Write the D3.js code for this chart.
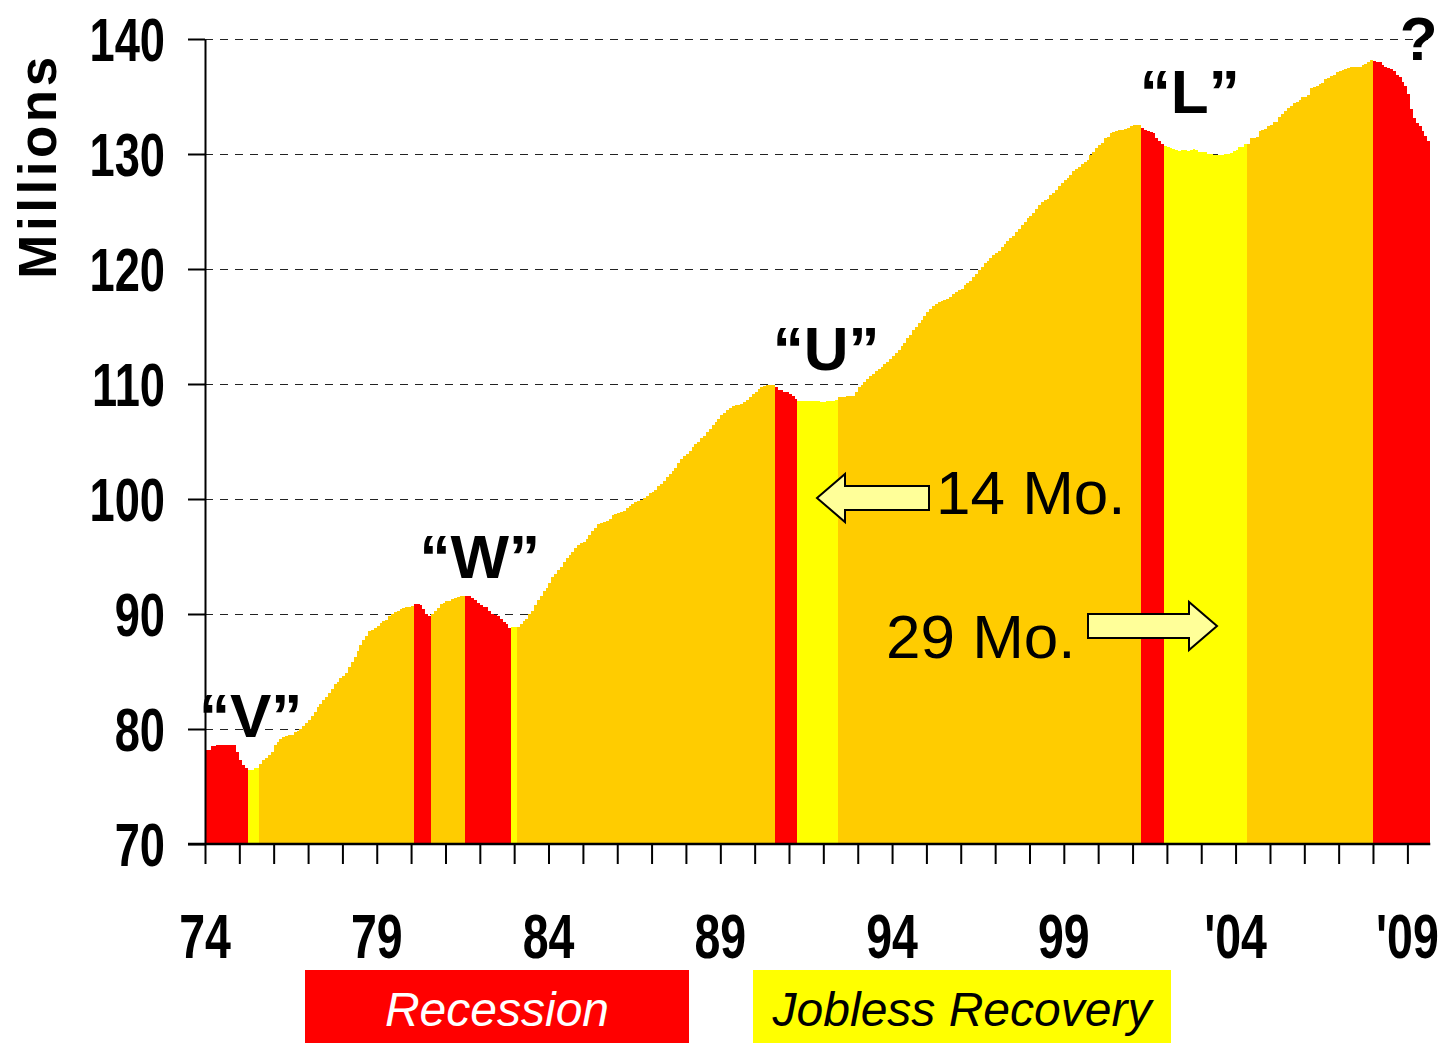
<!DOCTYPE html>
<html>
<head>
<meta charset="utf-8">
<script src="https://cdn.jsdelivr.net/npm/d3@7"></script>
<style>
  html, body { margin: 0; padding: 0; background: #fff; }
  svg { display: block; }
</style>
</head>
<body>
<svg id="chart" width="1443" height="1043"></svg>
<script>
// Nonfarm payroll employment, millions, monthly from January 1974 (one row per year)
const employment = [
  78.2, 78.2, 78.5, 78.5, 78.6, 78.6, 78.6, 78.6, 78.6, 78.6, 78.6, 78.0,   // 1974
  77.3, 76.9, 76.6, 76.4, 76.4, 76.6, 76.6, 77.0, 77.3, 77.5, 77.7, 78.0,   // 1975
  78.6, 78.9, 79.1, 79.3, 79.4, 79.5, 79.5, 79.7, 79.8, 80.0, 80.3, 80.5,   // 1976
  80.8, 81.1, 81.5, 81.9, 82.2, 82.5, 82.8, 83.1, 83.5, 83.9, 84.1, 84.4,   // 1977
  84.6, 84.9, 85.4, 85.8, 86.3, 86.8, 87.3, 87.7, 88.1, 88.5, 88.6, 88.8,   // 1978
  89.0, 89.2, 89.4, 89.5, 89.8, 90.0, 90.2, 90.3, 90.4, 90.5, 90.6, 90.6,   // 1979
  90.7, 90.9, 90.9, 90.8, 90.4, 90.0, 89.8, 90.0, 90.3, 90.5, 90.9, 91.0,   // 1980
  91.1, 91.1, 91.3, 91.4, 91.5, 91.6, 91.6, 91.6, 91.6, 91.4, 91.2, 91.0,   // 1981
  90.8, 90.6, 90.6, 90.3, 90.0, 89.9, 89.8, 89.6, 89.3, 89.1, 88.8, 88.9,   // 1982
  88.9, 88.9, 89.1, 89.4, 89.6, 90.0, 90.3, 90.8, 91.2, 91.6, 92.0, 92.3,   // 1983
  92.7, 93.2, 93.5, 93.8, 94.1, 94.5, 94.9, 95.1, 95.4, 95.7, 96.0, 96.2,   // 1984
  96.3, 96.5, 96.9, 97.2, 97.5, 97.8, 97.9, 98.0, 98.1, 98.3, 98.6, 98.7,   // 1985
  98.8, 98.9, 99.0, 99.2, 99.4, 99.6, 99.7, 99.8, 99.9, 100.1, 100.3, 100.5, // 1986
  100.6, 100.8, 101.1, 101.3, 101.6, 101.9, 102.2, 102.4, 102.7, 103.1, 103.5, 103.7, // 1987
  103.9, 104.2, 104.5, 104.8, 105.0, 105.3, 105.5, 105.8, 106.1, 106.4, 106.7, 107.0, // 1988
  107.3, 107.5, 107.7, 107.9, 108.1, 108.15, 108.2, 108.3, 108.4, 108.6, 108.9, 109.1, // 1989
  109.3, 109.6, 109.7, 109.8, 109.9, 109.9, 109.9, 109.7, 109.5, 109.5, 109.3, 109.3, // 1990
  109.1, 109.0, 108.7, 108.5, 108.5, 108.5, 108.5, 108.5, 108.5, 108.5, 108.5, 108.45, // 1991
  108.45, 108.5, 108.5, 108.55, 108.6, 108.9, 108.9, 108.9, 109.0, 109.0, 109.0, 109.3, // 1992
  109.7, 109.9, 110.2, 110.4, 110.7, 110.9, 111.1, 111.3, 111.5, 111.7, 111.9, 112.2, // 1993
  112.4, 112.7, 113.0, 113.3, 113.6, 114.0, 114.3, 114.7, 115.0, 115.3, 115.6, 115.9, // 1994
  116.3, 116.5, 116.8, 117.0, 117.1, 117.2, 117.3, 117.4, 117.6, 117.8, 118.0, 118.15, // 1995
  118.3, 118.6, 118.8, 119.0, 119.3, 119.6, 119.9, 120.2, 120.5, 120.7, 121.0, 121.2, // 1996
  121.4, 121.6, 121.9, 122.2, 122.4, 122.7, 122.9, 123.2, 123.5, 123.8, 124.1, 124.4, // 1997
  124.6, 124.9, 125.2, 125.6, 125.8, 126.0, 126.1, 126.4, 126.6, 126.9, 127.2, 127.5, // 1998
  127.7, 127.9, 128.2, 128.5, 128.7, 128.9, 129.1, 129.3, 129.5, 129.9, 130.2, 130.5, // 1999
  130.8, 131.0, 131.4, 131.5, 131.8, 131.9, 132.0, 132.1, 132.1, 132.2, 132.3, 132.4, // 2000
  132.5, 132.5, 132.5, 132.3, 132.1, 132.0, 131.9, 131.8, 131.4, 131.1, 130.9, 130.7, // 2001
  130.6, 130.5, 130.4, 130.35, 130.3, 130.35, 130.35, 130.3, 130.35, 130.4, 130.35, 130.2, // 2002
  130.2, 130.2, 130.0, 130.0, 129.95, 129.95, 129.95, 129.9, 130.0, 130.0, 130.05, 130.3, // 2003
  130.35, 130.6, 130.6, 130.9, 130.9, 131.4, 131.4, 131.5, 132.0, 132.1, 132.2, 132.4, // 2004
  132.5, 132.8, 132.8, 133.2, 133.5, 133.7, 134.0, 134.2, 134.4, 134.5, 134.7, 135.0, // 2005
  135.0, 135.1, 135.7, 135.8, 135.9, 136.1, 136.2, 136.5, 136.6, 136.8, 136.9, 137.1, // 2006
  137.2, 137.3, 137.4, 137.5, 137.6, 137.6, 137.6, 137.6, 137.7, 137.8, 138.0, 138.2, // 2007
  138.1, 138.0, 138.0, 137.7, 137.6, 137.5, 137.4, 137.2, 136.9, 136.7, 136.3, 135.9, // 2008
  135.2, 133.9, 133.1, 132.7, 132.4, 132.0, 131.6, 131.1                              // 2009
];
const startYear = 1974;

// Shaded periods, first and last month inclusive
const recessions = [
  [[1974, 1], [1975, 3]],
  [[1980, 2], [1980, 7]],
  [[1981, 8], [1982, 11]],
  [[1990, 8], [1991, 3]],
  [[2001, 4], [2001, 11]],
  [[2008, 1], [2009, 8]]
];
const joblessRecoveries = [
  [[1975, 4], [1975, 7]],
  [[1982, 12], [1983, 1]],
  [[1991, 4], [1992, 5]],   // 14 months
  [[2001, 12], [2004, 4]]   // 29 months
];

const yTicks = [70, 80, 90, 100, 110, 120, 130, 140];
const yGrid = [80, 90, 100, 110, 120, 130, 140];
const xLabelYears = [1974, 1979, 1984, 1989, 1994, 1999, 2004, 2009];
const xLabelText = ["74", "79", "84", "89", "94", "99", "'04", "'09"];

// Recovery-shape labels, anchored at [year, month, level]
const shapeLabels = [
  { text: "\u201CV\u201D", at: [1975, 5.0, 79.3] },
  { text: "\u201CW\u201D", at: [1982, 1.7, 93.1] },
  { text: "\u201CU\u201D", at: [1992, 2.0, 111.2] },
  { text: "\u201CL\u201D", at: [2002, 9.2, 133.6] },
  { text: "?", at: [2009, 5.1, 138.2] }
];

const colors = { base: "#FFCC00", recession: "#FF0000", jobless: "#FFFF00", arrow: "#FFFF99" };
const boldFont = "'Liberation Sans', Arial, Helvetica, sans-serif";

const svg = d3.select("#chart");

const x = d3.scaleTime()
  .domain([new Date(1974, 0, 1), new Date(2009, 0, 1)])
  .range([205, 1407.4]);
const y = d3.scaleLinear().domain([70, 140]).range([844, 39]);

const monthDate = i => new Date(startYear, i, 1);
const monthIndex = ([yr, mo]) => (yr - startYear) * 12 + (mo - 1);

function category(i) {
  for (const [a, b] of recessions) if (i >= monthIndex(a) && i <= monthIndex(b)) return "recession";
  for (const [a, b] of joblessRecoveries) if (i >= monthIndex(a) && i <= monthIndex(b)) return "jobless";
  return "base";
}

// Dashed gridlines (behind the area)
svg.append("g")
  .selectAll("line")
  .data(yGrid)
  .join("line")
  .attr("x1", x(new Date(1974, 0, 1)))
  .attr("x2", x(monthDate(employment.length)))
  .attr("y1", d => y(d) + 0.5)
  .attr("y2", d => y(d) + 0.5)
  .attr("stroke", "#222")
  .attr("stroke-width", 1)
  .attr("stroke-dasharray", "8,7");

// Build contiguous same-colour runs of months
const segments = [];
employment.forEach((v, i) => {
  const c = category(i);
  const last = segments[segments.length - 1];
  if (last && last.cat === c) last.pts.push({ date: monthDate(i), value: v });
  else segments.push({ cat: c, pts: [{ date: monthDate(i), value: v }], lastIndex: i });
  segments[segments.length - 1].lastIndex = i;
});
segments.forEach(s => s.pts.push({ date: monthDate(s.lastIndex + 1), value: employment[s.lastIndex] }));

const area = d3.area()
  .x(d => x(d.date))
  .y0(y(70))
  .y1(d => y(d.value))
  .curve(d3.curveStepAfter);

svg.append("g")
  .selectAll("path")
  .data(segments)
  .join("path")
  .attr("d", d => area(d.pts))
  .attr("fill", d => colors[d.cat])
  .attr("shape-rendering", "crispEdges");

// X axis: yearly ticks
const xAxis = d3.axisBottom(x)
  .ticks(d3.timeYear.every(1))
  .tickSize(20)
  .tickSizeOuter(0)
  .tickFormat("");
const gx = svg.append("g").attr("transform", `translate(0,${y(70)})`).call(xAxis);
gx.select(".domain").remove();
gx.selectAll(".tick line").attr("stroke", "#000").attr("stroke-width", 2);
gx.selectAll(".tick").filter(d => d > monthDate(employment.length)).remove();

svg.append("line")
  .attr("x1", 188).attr("x2", x(monthDate(employment.length)))
  .attr("y1", y(70)).attr("y2", y(70))
  .attr("stroke", "#000").attr("stroke-width", 2.5);

// Y axis
const yAxis = d3.axisLeft(y).tickValues(yTicks).tickSize(17).tickSizeOuter(0).tickFormat("");
const gy = svg.append("g").attr("transform", `translate(${x(new Date(1974, 0, 1))},0)`).call(yAxis);
gy.select(".domain").attr("stroke", "#000").attr("stroke-width", 2);
gy.selectAll(".tick line").attr("stroke", "#000").attr("stroke-width", 2);

// Tick labels in a condensed bold face
svg.append("g")
  .selectAll("g")
  .data(yTicks)
  .join("g")
  .attr("transform", d => `translate(165,${y(d) + 22}) scale(0.73,1)`)
  .append("text")
  .attr("text-anchor", "end")
  .attr("font-family", boldFont)
  .attr("font-weight", "bold")
  .attr("font-size", 62)
  .text(d => d);

svg.append("g")
  .selectAll("g")
  .data(xLabelYears)
  .join("g")
  .attr("transform", d => `translate(${x(new Date(d, 0, 1))},958) scale(0.75,1)`)
  .append("text")
  .attr("text-anchor", "middle")
  .attr("font-family", boldFont)
  .attr("font-weight", "bold")
  .attr("font-size", 62)
  .text((d, i) => xLabelText[i]);

// Axis title
svg.append("text")
  .attr("transform", "translate(56,166) rotate(-90)")
  .attr("text-anchor", "middle")
  .attr("font-family", boldFont)
  .attr("font-weight", "bold")
  .attr("font-size", 53)
  .attr("letter-spacing", 3.5)
  .text("Millions");

// Shape labels
svg.append("g")
  .selectAll("g")
  .data(shapeLabels)
  .join("g")
  .attr("transform", d => `translate(${x(new Date(d.at[0], d.at[1] - 1, 1))},${y(d.at[2])})`)
  .append("text")
  .attr("text-anchor", "middle")
  .attr("font-family", boldFont)
  .attr("font-weight", "bold")
  .attr("font-size", 62)
  .text(d => d.text);

// Block arrows pointing at the two long jobless recoveries
function blockArrow(tipX, tailX, cy) {
  const dir = Math.sign(tailX - tipX);
  const headX = tipX + dir * 28;
  return d3.line()([
    [tipX, cy], [headX, cy - 24], [headX, cy - 12], [tailX, cy - 12],
    [tailX, cy + 12], [headX, cy + 12], [headX, cy + 24], [tipX, cy]
  ]) + "Z";
}
const arrows = [
  { tip: 817, tail: 929, cy: 498 },
  { tip: 1217, tail: 1088, cy: 626 }
];
svg.append("g")
  .selectAll("path")
  .data(arrows)
  .join("path")
  .attr("d", d => blockArrow(d.tip, d.tail, d.cy))
  .attr("fill", colors.arrow)
  .attr("stroke", "#000")
  .attr("stroke-width", 2)
  .attr("stroke-linejoin", "miter");

const notes = [
  { text: "14 Mo.", x: 936, y: 514 },
  { text: "29 Mo.", x: 886, y: 658 }
];
svg.append("g")
  .selectAll("text")
  .data(notes)
  .join("text")
  .attr("x", d => d.x)
  .attr("y", d => d.y)
  .attr("font-family", boldFont)
  .attr("font-size", 62)
  .text(d => d.text);

// Legend
const legend = [
  { label: "Recession", x: 305, w: 384, fill: colors.recession, ink: "#fff" },
  { label: "Jobless Recovery", x: 753, w: 418, fill: colors.jobless, ink: "#000" }
];
const lg = svg.append("g").selectAll("g").data(legend).join("g");
lg.append("rect")
  .attr("x", d => d.x).attr("y", 970)
  .attr("width", d => d.w).attr("height", 73)
  .attr("fill", d => d.fill);
lg.append("text")
  .attr("x", d => d.x + d.w / 2)
  .attr("y", 1026)
  .attr("text-anchor", "middle")
  .attr("font-family", boldFont)
  .attr("font-style", "italic")
  .attr("font-size", 48)
  .attr("fill", d => d.ink)
  .text(d => d.label);
</script>
</body>
</html>
